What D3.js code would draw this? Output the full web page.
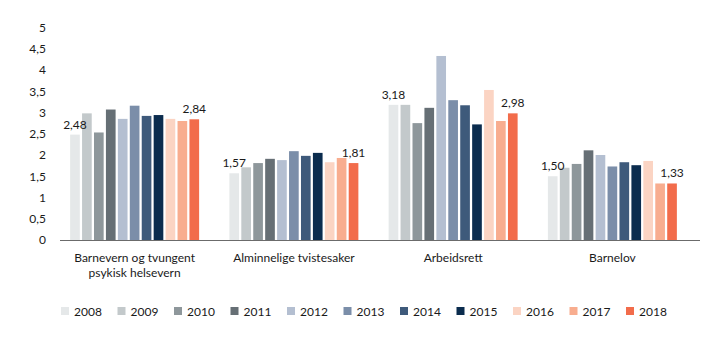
<!DOCTYPE html>
<html>
<head>
<meta charset="utf-8">
<script src="https://cdn.jsdelivr.net/npm/d3@7"></script>
<style>
  html, body { margin: 0; padding: 0; background: #fff; }
  svg { display: block; }
  text { font-family: Lato, "Noto Sans", sans-serif; fill: #1a1a1a; }
</style>
</head>
<body>
<svg id="chart" width="719" height="341"></svg>
<script>
const categories = ["Barnevern og tvungent\npsykisk helsevern", "Alminnelige tvistesaker", "Arbeidsrett", "Barnelov"];
const years = ["2008","2009","2010","2011","2012","2013","2014","2015","2016","2017","2018"];
const values = {
  "Barnevern og tvungent\npsykisk helsevern": [2.48, 2.98, 2.53, 3.07, 2.85, 3.16, 2.92, 2.94, 2.85, 2.80, 2.84],
  "Alminnelige tvistesaker": [1.57, 1.71, 1.81, 1.91, 1.88, 2.09, 1.98, 2.05, 1.83, 1.93, 1.81],
  "Arbeidsrett": [3.18, 3.18, 2.75, 3.11, 4.33, 3.29, 3.17, 2.72, 3.53, 2.80, 2.98],
  "Barnelov": [1.50, 1.70, 1.79, 2.11, 2.00, 1.73, 1.83, 1.76, 1.86, 1.33, 1.33]
};
const colors = ["#e5e8e9","#c3c9cb","#8e979b","#666f75","#b4bfd1","#7b8ea9","#3e5a7b","#0b2c4e","#fbd4c3","#f8ad8f","#f26c4b"];
const yTicks = [0, 0.5, 1, 1.5, 2, 2.5, 3, 3.5, 4, 4.5, 5];
const fmt = v => d3.format(".2f")(v).replace(".", ",");
const tickFmt = v => String(v).replace(".", ",");

const svg = d3.select("#chart");
const y = d3.scaleLinear().domain([0, 5]).range([240, 27.5]);
const x0 = d3.scaleBand().domain(categories).range([55, 692]).paddingInner(0.19).paddingOuter(0.095);
const x1 = d3.scaleBand().domain(years).range([0, x0.bandwidth()]).paddingInner(0.19).paddingOuter(0);
const color = d3.scaleOrdinal().domain(years).range(colors);

// y tick labels
const yAxis = d3.axisLeft(y).tickValues(yTicks).tickFormat(tickFmt).tickSize(0).tickPadding(0);
const gy = svg.append("g").attr("transform", "translate(46,0)").call(yAxis);
gy.select(".domain").remove();
gy.selectAll("text").style("font-size", "12px").attr("fill", "#1a1a1a").style("font-family", "Lato, 'Noto Sans', sans-serif");

// bars
const groups = svg.append("g").selectAll("g").data(categories).join("g")
  .attr("transform", d => `translate(${x0(d)},0)`);
groups.selectAll("rect").data(c => years.map((yr, i) => ({yr, v: values[c][i]}))).join("rect")
  .attr("x", d => x1(d.yr))
  .attr("width", x1.bandwidth())
  .attr("y", d => y(d.v))
  .attr("height", d => y(0) - y(d.v))
  .attr("fill", d => color(d.yr));

// value labels: first and last
groups.selectAll("text.val").data(c => [
  {yr: years[0], v: values[c][0]},
  {yr: years[years.length - 1], v: values[c][years.length - 1]}
]).join("text").attr("class", "val")
  .attr("x", d => x1(d.yr) + x1.bandwidth() / 2)
  .attr("y", d => y(d.v) - 6)
  .attr("text-anchor", "middle")
  .style("font-size", "12px")
  .text(d => fmt(d.v));

// x axis line
svg.append("line").attr("x1", 60).attr("x2", 700).attr("y1", y(0) + 0.5).attr("y2", y(0) + 0.5)
  .attr("stroke", "#6b6b6b").attr("stroke-width", 1);

// category labels
const xAxis = d3.axisBottom(x0).tickSize(0).tickPadding(0);
const gx = svg.append("g").attr("transform", "translate(0,0)");
categories.forEach(c => {
  const lines = c.split("\n");
  const t = gx.append("text").attr("text-anchor", "middle").style("font-size", "12px")
    .attr("x", x0(c) + x0.bandwidth() / 2).attr("y", 262);
  lines.forEach((ln, i) => t.append("tspan").attr("x", x0(c) + x0.bandwidth() / 2).attr("dy", i === 0 ? 0 : 15).text(ln));
});

// legend
const legend = svg.append("g").attr("transform", "translate(61,307)");
const lx = d3.scaleBand().domain(years).range([0, 56.5 * 11]);
const li = legend.selectAll("g").data(years).join("g").attr("transform", d => `translate(${lx(d)},0)`);
li.append("rect").attr("width", 8).attr("height", 8).attr("fill", d => color(d));
li.append("text").attr("x", 13).attr("y", 8.5).style("font-size", "12px").text(d => d);
</script>
</body>
</html>
